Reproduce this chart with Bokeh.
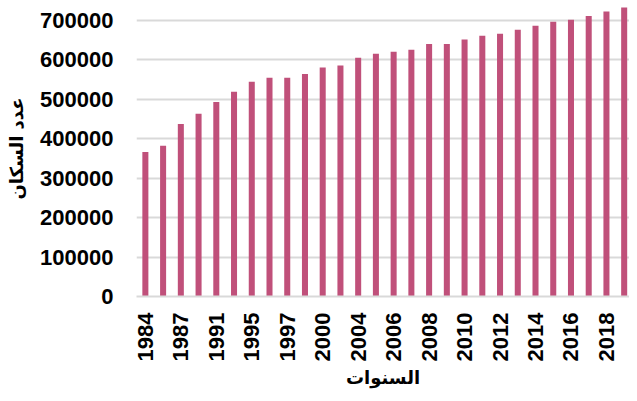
from bokeh.plotting import figure
from bokeh.models import Range1d, FixedTicker, ColumnDataSource, NumeralTickFormatter
from bokeh.embed import file_html
from bokeh.resources import INLINE

years = ["1984", "1985", "1987", "1989", "1991", "1993", "1995", "1996", "1997", "1998",
         "2000", "2002", "2004", "2005", "2006", "2007", "2008", "2009", "2010", "2011",
         "2012", "2013", "2014", "2015", "2016", "2017", "2018", "2019"]
population = [366000, 382000, 437000, 463000, 493000, 519000, 544000, 554000, 554000, 564000,
              580000, 585000, 605000, 615000, 620000, 625000, 640000, 640000, 651000, 661000,
              666000, 676000, 686000, 696000, 701000, 711000, 722000, 732000]
y_ticks = [0, 100000, 200000, 300000, 400000, 500000, 600000, 700000]

x_title = "السنوات"
y_title = "عدد السكان"

idx = list(range(len(years)))
src = ColumnDataSource(dict(x=idx, top=population, year=years))

p = figure(frame_width=493, frame_height=296, output_backend="svg", toolbar_location=None,
           x_range=Range1d(-0.5, len(years) - 0.7), y_range=Range1d(0, 750000),
           min_border_left=136, min_border_right=0, min_border_top=0, min_border_bottom=97)
p.vbar(x="x", top="top", width=0.34, source=src, fill_color="#C0507A", line_color=None)

p.outline_line_color = None
p.xgrid.grid_line_color = None
p.ygrid.grid_line_color = "#D9D9D9"
p.ygrid.grid_line_width = 2

font = "Liberation Sans"
ar_font = "DejaVu Sans"

p.xaxis.ticker = FixedTicker(ticks=idx[::2])
p.xaxis.major_label_overrides = {i: years[i] for i in idx[::2]}
p.xaxis.major_label_orientation = 1.5708
p.xaxis.axis_line_color = "#D9D9D9"
p.xaxis.axis_line_width = 2
p.xaxis.major_tick_line_color = None
p.xaxis.minor_tick_line_color = None
p.xaxis.major_tick_out = 0
p.xaxis.major_label_standoff = 16
p.xaxis.major_label_text_font = font
p.xaxis.major_label_text_font_style = "bold"
p.xaxis.major_label_text_font_size = "22px"
p.xaxis.major_label_text_color = "black"
p.xaxis.axis_label = x_title
p.xaxis.axis_label_text_font = ar_font
p.xaxis.axis_label_text_font_style = "bold"
p.xaxis.axis_label_text_font_size = "18px"
p.xaxis.axis_label_text_color = "black"
p.xaxis.axis_label_standoff = 3

p.yaxis.ticker = FixedTicker(ticks=y_ticks)
p.yaxis.formatter = NumeralTickFormatter(format="0")
p.yaxis.axis_line_color = None
p.yaxis.major_tick_line_color = None
p.yaxis.minor_tick_line_color = None
p.yaxis.major_tick_out = 0
p.yaxis.major_label_standoff = 23
p.yaxis.major_label_text_font = font
p.yaxis.major_label_text_font_style = "bold"
p.yaxis.major_label_text_font_size = "22px"
p.yaxis.major_label_text_color = "black"
p.yaxis.axis_label = y_title
p.yaxis.axis_label_text_font = ar_font
p.yaxis.axis_label_text_font_style = "bold"
p.yaxis.axis_label_text_font_size = "18px"
p.yaxis.axis_label_text_color = "black"
p.yaxis.axis_label_standoff = 10

open("out.html", "w").write(file_html(p, INLINE))
